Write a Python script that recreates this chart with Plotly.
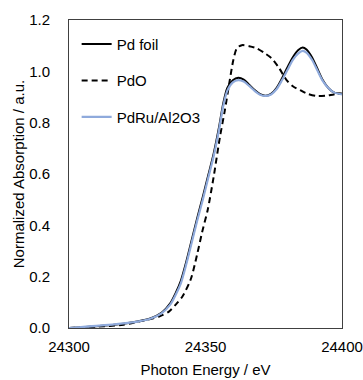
import plotly.graph_objects as go

# Photon energy (eV) and normalized absorption
pd_foil_e = [24300, 24310, 24320, 24325, 24330, 24334, 24337, 24339, 24341, 24343, 24345, 24347,
             24349, 24351, 24353, 24355, 24356.5, 24358, 24360, 24362, 24364, 24366, 24368, 24370,
             24372, 24374, 24376, 24378, 24380, 24382, 24384, 24385.6, 24387, 24389, 24391, 24393,
             24395, 24397, 24400]
pd_foil_mu = [0.0, 0.007, 0.017, 0.025, 0.038, 0.060, 0.095, 0.135, 0.185, 0.26, 0.345, 0.43,
              0.51, 0.595, 0.68, 0.785, 0.875, 0.935, 0.965, 0.975, 0.968, 0.948, 0.927, 0.911,
              0.905, 0.912, 0.935, 0.972, 1.015, 1.055, 1.083, 1.093, 1.085, 1.055, 1.01, 0.965,
              0.935, 0.918, 0.912]

pdo_e = [24300, 24310, 24320, 24328, 24333, 24336.6, 24339, 24341.5, 24344.6, 24347, 24348.8,
         24350.8, 24353, 24355.3, 24357.1, 24358.7, 24360.2, 24361.5, 24363.3, 24366, 24368.7,
         24371.5, 24374.2, 24377, 24379.7, 24382, 24384.6, 24387, 24390.7, 24394, 24397, 24400]
pdo_mu = [0.0, 0.005, 0.013, 0.031, 0.045, 0.064, 0.09, 0.122, 0.19, 0.29, 0.375,
          0.46, 0.59, 0.745, 0.849, 0.953, 1.044, 1.09, 1.102, 1.098, 1.09,
          1.072, 1.051, 1.012, 0.966, 0.942, 0.927, 0.914, 0.904, 0.905, 0.91, 0.914]

pdru_e = [24300, 24310, 24320, 24325, 24330, 24334, 24337, 24339, 24341, 24343, 24345, 24347,
          24349, 24351, 24353, 24355, 24356.5, 24358, 24360, 24362, 24364, 24366, 24368, 24370,
          24372, 24374, 24376, 24378, 24380, 24382, 24384, 24385.6, 24387, 24389, 24391, 24393,
          24395, 24397, 24400]
pdru_mu = [0.0, 0.008, 0.018, 0.025, 0.037, 0.058, 0.09, 0.128, 0.175, 0.25, 0.335, 0.42,
           0.50, 0.585, 0.67, 0.775, 0.865, 0.925, 0.957, 0.966, 0.96, 0.943, 0.924, 0.909,
           0.904, 0.91, 0.93, 0.965, 1.005, 1.045, 1.07, 1.08, 1.073, 1.045, 1.003, 0.962,
           0.935, 0.918, 0.91]

x_ticks = [24300, 24350, 24400]
y_ticks = [0.0, 0.2, 0.4, 0.6, 0.8, 1.0, 1.2]

FONT = "Liberation Sans, Arial, sans-serif"

fig = go.Figure()
fig.add_trace(go.Scatter(x=pd_foil_e, y=pd_foil_mu, mode="lines", name="Pd foil",
                         line=dict(color="black", width=2, shape="spline", smoothing=0.8),
                         legendgroup="a"))
fig.add_trace(go.Scatter(x=pdo_e, y=pdo_mu, mode="lines", name="PdO",
                         line=dict(color="black", width=2, dash="6px,4px", shape="spline", smoothing=0.8),
                         legendgroup="b"))
fig.add_trace(go.Scatter(x=pdru_e, y=pdru_mu, mode="lines", name="PdRu/Al2O3",
                         line=dict(color="#8FAADC", width=2.2, shape="spline", smoothing=0.8),
                         legendgroup="c"))

fig.update_layout(
    width=363, height=380,
    margin=dict(l=69, r=21, t=20, b=52, autoexpand=False),
    paper_bgcolor="white", plot_bgcolor="white",
    font=dict(family=FONT, size=15, color="black"),
    showlegend=True,
    legend=dict(x=0.028, y=0.975, xanchor="left", yanchor="top",
                bgcolor="rgba(0,0,0,0)", tracegroupgap=14,
                font=dict(family=FONT, size=15, color="black")),
    xaxis=dict(range=[24300, 24400], tickvals=x_ticks, ticktext=[str(v) for v in x_ticks],
               showgrid=False, zeroline=False, showline=True, linecolor="#404040", linewidth=1,
               mirror=True, ticks="", ticklabelstandoff=5, automargin=False,
               title=dict(text="Photon Energy / eV", standoff=10, font=dict(size=15))),
    yaxis=dict(range=[0, 1.2], tickvals=y_ticks, ticktext=[f"{v:.1f}" for v in y_ticks],
               showgrid=False, zeroline=False, showline=True, linecolor="#404040", linewidth=1,
               mirror=True, ticks="", ticklabelstandoff=15, automargin=False,
               title=dict(text="Normalized Absorption / a.u.", standoff=0, font=dict(size=15))),
)

fig.write_html("out.html")
